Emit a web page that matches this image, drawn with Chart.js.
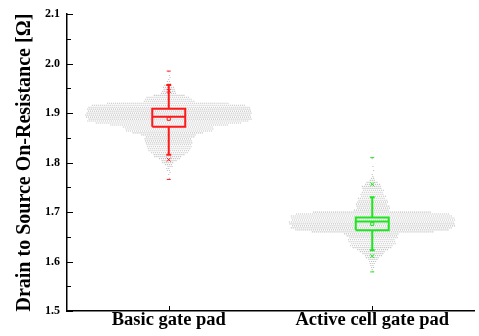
<!DOCTYPE html>
<html>
<head>
<meta charset="utf-8">
<script src="https://cdn.jsdelivr.net/npm/chart.js@4.4.1/dist/chart.umd.min.js"></script>
<style>
  html, body { margin: 0; padding: 0; background: #fff; }
  #wrap { width: 479px; height: 336px; }
</style>
</head>
<body>
<div id="wrap"><canvas id="chart"></canvas></div>
<script>
const categories = ['Basic gate pad', 'Active cell gate pad'];
const yTicks = [1.5, 1.6, 1.7, 1.8, 1.9, 2.0, 2.1];

// box statistics
const basicBox = { min: 1.766, p1: 1.806, whiskLo: 1.816, q1: 1.8725, median: 1.8926, mean: 1.8886, q3: 1.909, whiskHi: 1.957, p99: 1.945, max: 1.985 };
const activeBox = { min: 1.579, p1: 1.611, whiskLo: 1.623, q1: 1.663, median: 1.681, mean: 1.676, q3: 1.689, whiskHi: 1.730, p99: 1.756, max: 1.810 };

// swarm rows: value of each row and how many devices sit in it
const basicRows = [1.984, 1.976, 1.972, 1.968, 1.964, 1.960, 1.956, 1.952, 1.948, 1.944, 1.940, 1.936, 1.932, 1.928, 1.924,
  1.920, 1.916, 1.912, 1.908, 1.904, 1.900, 1.896, 1.892, 1.888, 1.884, 1.880, 1.876, 1.872, 1.868, 1.864, 1.860,
  1.856, 1.852, 1.848, 1.844, 1.840, 1.836, 1.832, 1.828, 1.824, 1.820, 1.816, 1.812, 1.808, 1.804, 1.800, 1.796,
  1.792, 1.788, 1.784, 1.780, 1.776, 1.768];
const basicCounts = [1, 1, 1, 1, 2, 2, 4, 6, 6, 7, 8, 16, 22, 24, 26,
  62, 78, 82, 83, 83, 84, 84, 84, 83, 82, 74, 60, 46, 45, 44, 36,
  28, 25, 24, 24, 24, 23, 23, 22, 21, 19, 16, 14, 11, 8, 6, 4,
  3, 2, 2, 1, 1, 1];

const activeRows = [1.808, 1.792, 1.784, 1.776, 1.772, 1.768, 1.764, 1.760, 1.756, 1.752, 1.748, 1.744, 1.740, 1.736,
  1.732, 1.728, 1.724, 1.720, 1.716, 1.712, 1.708, 1.704, 1.700, 1.696, 1.692, 1.688, 1.684, 1.680, 1.676, 1.672,
  1.668, 1.664, 1.660, 1.656, 1.652, 1.648, 1.644, 1.640, 1.636, 1.632, 1.628, 1.624, 1.620, 1.616, 1.612, 1.608,
  1.604, 1.600, 1.596, 1.592, 1.588, 1.584, 1.580];
const activeCounts = [1, 1, 1, 1, 1, 2, 3, 6, 8, 10, 10, 11, 11, 12,
  13, 14, 15, 16, 16, 17, 17, 18, 60, 78, 82, 83, 83, 84, 84, 83,
  82, 78, 62, 28, 26, 25, 24, 24, 23, 22, 20, 16, 13, 11, 9, 7,
  5, 4, 3, 2, 2, 1, 1];

const dotGap = 0.0097;   // ~2px between neighbours in a row
const boxHalf = 0.081;
const capHalf = 0.012;

function swarm(center, rows, counts) {
  const pts = [];
  rows.forEach((v, r) => {
    const shift = (r % 3) * dotGap / 3;
    for (let k = 0; k < counts[r]; k++) {
      const side = k % 2 === 0 ? 1 : -1;
      pts.push({ x: center + shift + side * Math.ceil(k / 2) * dotGap, y: v });
    }
  });
  return pts;
}

function boxSets(center, b, color) {
  const line = { showLine: true, pointRadius: 0, borderColor: color, borderWidth: 2, order: 1, spanGaps: false };
  return [
    Object.assign({}, line, { data: [
      { x: center - boxHalf, y: b.q1 }, { x: center + boxHalf, y: b.q1 },
      { x: center + boxHalf, y: b.q3 }, { x: center - boxHalf, y: b.q3 }, { x: center - boxHalf, y: b.q1 }] }),
    Object.assign({}, line, { data: [{ x: center - boxHalf, y: b.median }, { x: center + boxHalf, y: b.median }] }),
    Object.assign({}, line, { data: [
      { x: center, y: b.q3 }, { x: center, y: b.whiskHi }, { x: center, y: null },
      { x: center - capHalf, y: b.whiskHi }, { x: center + capHalf, y: b.whiskHi }, { x: center, y: null },
      { x: center, y: b.q1 }, { x: center, y: b.whiskLo }, { x: center, y: null },
      { x: center - capHalf, y: b.whiskLo }, { x: center + capHalf, y: b.whiskLo }] }),
    { data: [{ x: center, y: b.mean }], pointStyle: 'rect', pointRadius: 2.2, borderWidth: 1,
      borderColor: color, backgroundColor: 'rgba(0,0,0,0)', order: 1 },
    { data: [{ x: center, y: b.p1 }, { x: center, y: b.p99 }], pointStyle: 'crossRot', pointRadius: 2.8, borderWidth: 1,
      borderColor: color, order: 1 },
    { data: [{ x: center, y: b.min }, { x: center, y: b.max }], pointStyle: 'line', pointRadius: 2, borderWidth: 1,
      borderColor: color, order: 1 }
  ];
}

const dotStyle = { pointStyle: 'rect', pointRadius: 0.8, borderWidth: 0, backgroundColor: '#c2c2c2', order: 10 };

const datasets = [
  Object.assign({ data: swarm(1, basicRows, basicCounts) }, dotStyle),
  Object.assign({ data: swarm(2, activeRows, activeCounts) }, dotStyle),
  ...boxSets(1, basicBox, '#ff1a1a'),
  ...boxSets(2, activeBox, '#1ee61e')
];

// inward ticks on the left and bottom axes
const innerTicks = {
  id: 'innerTicks',
  afterDraw(c) {
    const ctx = c.ctx, a = c.chartArea;
    const ys = c.scales.y, xs = c.scales.x;
    ctx.save();
    ctx.strokeStyle = '#000';
    ctx.lineWidth = 1;
    ctx.beginPath();
    yTicks.forEach(v => {
      const p = Math.round(ys.getPixelForValue(v)) + 0.5;
      ctx.moveTo(a.left, p); ctx.lineTo(a.left + 6, p);
    });
    yTicks.slice(0, -1).forEach(v => {
      const p = Math.round(ys.getPixelForValue(v + 0.05)) + 0.5;
      ctx.moveTo(a.left, p); ctx.lineTo(a.left + 4, p);
    });
    [1, 2].forEach(v => {
      const p = Math.round(xs.getPixelForValue(v)) + 0.5;
      ctx.moveTo(p, a.bottom); ctx.lineTo(p, a.bottom - 5);
    });
    ctx.stroke();
    ctx.restore();
  }
};

const config = {
  type: 'scatter',
  data: { datasets: datasets },
  options: {
    responsive: true,
    maintainAspectRatio: false,
    animation: false,
    events: [],
    layout: { padding: { top: 13, right: 0, bottom: 0, left: 0 } },
    plugins: { legend: { display: false }, tooltip: { enabled: false } },
    scales: {
      x: {
        type: 'linear',
        min: 0.5,
        max: 2.5,
        afterBuildTicks: s => { s.ticks = [{ value: 1 }, { value: 2 }]; },
        afterFit: s => { s.height = 25; },
        grid: { display: false, drawTicks: false },
        border: { display: true, color: '#000', width: 1.5 },
        ticks: {
          padding: 0,
          color: '#000',
          font: { family: 'Liberation Serif', size: 18.5, weight: 'bold', lineHeight: 1 },
          callback: v => categories[v - 1]
        }
      },
      y: {
        min: 1.5,
        max: 2.1,
        afterBuildTicks: s => { s.ticks = yTicks.map(v => ({ value: v })); },
        afterFit: s => { s.width = 67; },
        grid: { display: false, drawTicks: false },
        border: { display: true, color: '#000', width: 1.5 },
        ticks: {
          padding: 7,
          color: '#000',
          font: { family: 'Liberation Serif', size: 12, weight: 'bold' },
          callback: v => v.toFixed(1)
        },
        title: {
          display: true,
          text: 'Drain to Source On-Resistance [Ω]',
          color: '#000',
          padding: { top: 13, bottom: 0 },
          font: { family: 'Liberation Serif', size: 20, weight: 'bold' }
        }
      }
    }
  },
  plugins: [innerTicks]
};

var chart = new Chart(document.getElementById('chart'), config);
</script>
</body>
</html>
